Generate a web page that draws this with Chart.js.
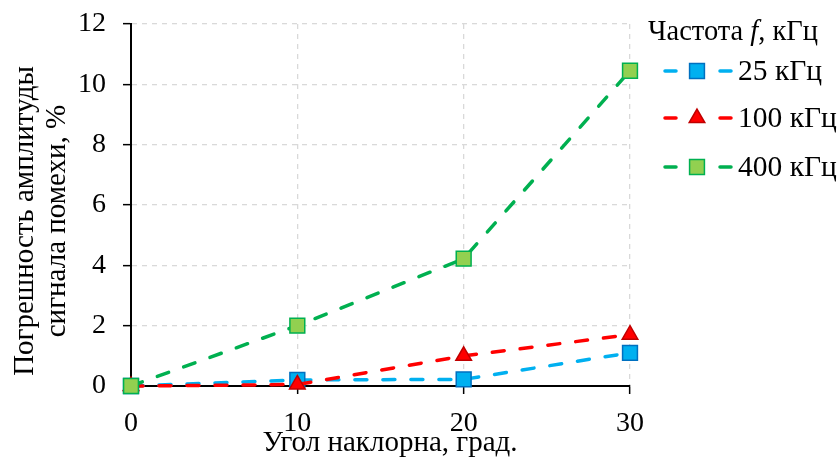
<!DOCTYPE html>
<html>
<head>
<meta charset="utf-8">
<script src="https://cdn.jsdelivr.net/npm/chart.js@4/dist/chart.umd.min.js"></script>
<style>
  html, body { margin: 0; padding: 0; background: #fff; }
  canvas { display: block; }
</style>
</head>
<body>
<canvas id="chart" width="840" height="458"></canvas>
<script>
// data
const angles = [0, 10, 20, 30];
const err25 = [0, 0.2, 0.22, 1.1];
const err100 = [0, 0.05, 1.0, 1.7];
const err400 = [0, 2.0, 4.22, 10.45];
const seriesLabels = ['25 кГц', '100 кГц', '400 кГц'];
const yTicks = [0, 2, 4, 6, 8, 10, 12];
const xTicks = [0, 10, 20, 30];
const xTitle = 'Угол наклорна, град.';
const yTitle = ['Погрешность амплитуды', 'сигнала помехи, %'];

const FONT = 'Liberation Serif, Times New Roman, serif';

const pts = arr => angles.map((a, i) => ({ x: a, y: arr[i] }));

// axis titles placed by hand (they sit off-centre in the original)
const titlesPlugin = {
  id: 'axisTitles',
  afterDraw(chart) {
    const ctx = chart.ctx;
    ctx.save();
    ctx.fillStyle = '#000';
    ctx.textAlign = 'center';
    ctx.textBaseline = 'middle';
    ctx.font = '29px ' + FONT;
    ctx.fillText(xTitle, 390, 443);
    ctx.translate(25, 221);
    ctx.rotate(-Math.PI / 2);
    ctx.fillText(yTitle[0], 0, 0);
    ctx.fillText(yTitle[1], 0, 32);
    ctx.restore();
  }
};

// legend drawn by hand: dash - marker - dash, like the original
const legendPlugin = {
  id: 'sideLegend',
  afterDraw(chart) {
    const ctx = chart.ctx;
    ctx.save();
    ctx.fillStyle = '#000';
    ctx.textBaseline = 'middle';
    ctx.textAlign = 'left';
    let x = 648;
    const ty = 33;
    ctx.font = '28.5px ' + FONT;
    ctx.fillText('Частота ', x, ty);
    x += ctx.measureText('Частота ').width;
    ctx.font = 'italic 28.5px ' + FONT;
    ctx.fillText('f', x, ty);
    x += ctx.measureText('f').width;
    ctx.font = '28.5px ' + FONT;
    ctx.fillText(', кГц', x, ty);

    const rows = [71, 118, 167];
    chart.data.datasets.forEach((ds, i) => {
      const y = rows[i];
      ctx.strokeStyle = ds.borderColor;
      ctx.lineWidth = 3.5;
      ctx.lineCap = 'round';
      ctx.setLineDash([]);
      ctx.beginPath();
      ctx.moveTo(665, y); ctx.lineTo(676, y);
      ctx.moveTo(720, y); ctx.lineTo(731, y);
      ctx.stroke();
      ctx.fillStyle = ds.pointBackgroundColor;
      ctx.strokeStyle = ds.pointBorderColor;
      ctx.lineWidth = ds.pointBorderWidth;
      Chart.helpers.drawPoint(ctx, {
        pointStyle: ds.pointStyle,
        radius: ds.pointRadius,
        borderWidth: ds.pointBorderWidth,
        rotation: 0
      }, 697, y);
      ctx.fillStyle = '#000';
      ctx.font = '29.5px ' + FONT;
      ctx.fillText(ds.label, 738, y + 1);
    });
    ctx.restore();
  }
};

const lineStyle = { borderWidth: 3.5, borderDash: [12, 16], borderCapStyle: 'round', pointBorderWidth: 1.5 };

new Chart(document.getElementById('chart'), {
  type: 'line',
  data: {
    datasets: [
      Object.assign({
        label: seriesLabels[0],
        data: pts(err25),
        borderColor: '#00B0F0',
        pointStyle: 'rect',
        pointRadius: 10.5,
        pointBackgroundColor: '#00B0F0',
        pointBorderColor: '#0070C0',
        order: 3
      }, lineStyle),
      Object.assign({
        label: seriesLabels[1],
        data: pts(err100),
        borderColor: '#FF0000',
        pointStyle: 'triangle',
        pointRadius: 9,
        pointBackgroundColor: '#FF0000',
        pointBorderColor: '#C00000',
        order: 2
      }, lineStyle),
      Object.assign({
        label: seriesLabels[2],
        data: pts(err400),
        borderColor: '#00B050',
        pointStyle: 'rect',
        pointRadius: 10.5,
        pointBackgroundColor: '#92D050',
        pointBorderColor: '#00B050',
        order: 1
      }, lineStyle)
    ]
  },
  options: {
    responsive: false,
    animation: false,
    devicePixelRatio: 1,
    clip: false,
    layout: { padding: { top: 24, right: 210, left: 0, bottom: 0 } },
    plugins: { legend: { display: false }, tooltip: { enabled: false } },
    scales: {
      x: {
        type: 'linear',
        min: 0, max: 30,
        afterBuildTicks: s => { s.ticks = xTicks.map(v => ({ value: v })); },
        afterFit: s => { s.height = 72; s.paddingLeft = 0; s.paddingRight = 0; },
        ticks: { color: '#000', font: { family: FONT, size: 28 }, padding: 13, maxRotation: 0 },
        grid: { color: '#d9d9d9', lineWidth: 1.3, tickColor: '#000', tickLength: 8, tickWidth: 1.5, tickBorderDash: [] },
        border: { color: '#000', width: 2, dash: [5, 5] }
      },
      y: {
        min: 0, max: 12,
        afterBuildTicks: s => { s.ticks = yTicks.map(v => ({ value: v })); },
        afterFit: s => { s.width = 131; s.paddingTop = 0; s.paddingBottom = 0; },
        ticks: { color: '#000', font: { family: FONT, size: 28 }, padding: 17 },
        grid: { color: '#d9d9d9', lineWidth: 1.3, tickColor: '#000', tickLength: 8, tickWidth: 1.5, tickBorderDash: [] },
        border: { color: '#000', width: 2, dash: [5, 5] }
      }
    }
  },
  plugins: [titlesPlugin, legendPlugin]
});
</script>
</body>
</html>
